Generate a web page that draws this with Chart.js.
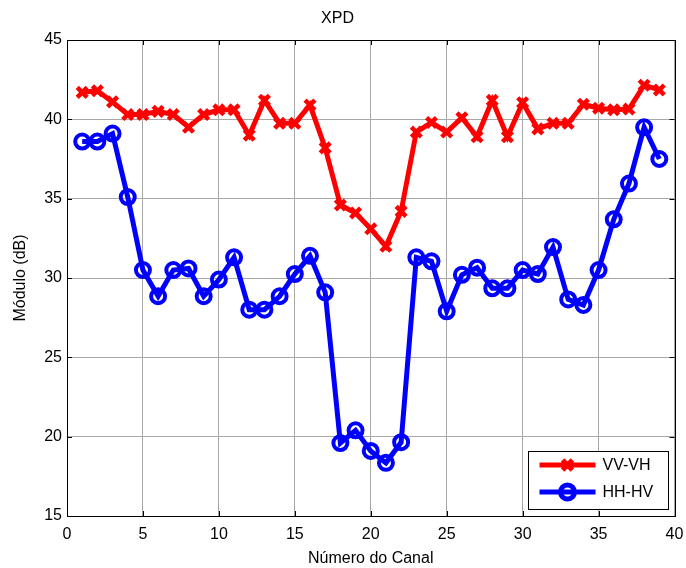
<!DOCTYPE html>
<html>
<head>
<meta charset="utf-8">
<script src="https://cdn.jsdelivr.net/npm/chart.js@4.4.1/dist/chart.umd.min.js"></script>
<style>
  html, body { margin: 0; padding: 0; background: #fff; }
  #wrap { width: 686px; height: 568px; }
</style>
</head>
<body>
<div id="wrap"><canvas id="c" width="686" height="568"></canvas></div>
<script>
const channels = [1, 2, 3, 4, 5, 6, 7, 8, 9, 10, 11, 12, 13, 14, 15, 16, 17, 18, 19, 20,
  21, 22, 23, 24, 25, 26, 27, 28, 29, 30, 31, 32, 33, 34, 35, 36, 37, 38, 39];

const vvVh = [41.7, 41.8, 41.1, 40.3, 40.3, 40.5, 40.3, 39.5, 40.3, 40.6,
  40.6, 39.0, 41.2, 39.75, 39.75, 40.9, 38.2, 34.6, 34.1, 33.1,
  32.0, 34.2, 39.2, 39.8, 39.2, 40.1, 38.9, 41.2, 38.9, 41.05,
  39.4, 39.75, 39.75, 40.95, 40.7, 40.6, 40.65, 42.15, 41.85];

const hhHv = [38.6, 38.6, 39.1, 35.1, 30.5, 28.85, 30.5, 30.6, 28.85, 29.9,
  31.3, 28.0, 28.0, 28.85, 30.25, 31.4, 29.1, 19.6, 20.4, 19.1,
  18.35, 19.65, 31.3, 31.05, 27.9, 30.2, 30.65, 29.35, 29.35, 30.5,
  30.25, 31.95, 28.65, 28.3, 30.5, 33.7, 35.95, 39.5, 37.5];

const seriesNames = ['VV-VH', 'HH-HV'];
const xTitle = 'Número do Canal';
const yTitle = 'Módulo (dB)';
const chartTitle = 'XPD';

const FONT = "'Liberation Sans', Arial, Helvetica, sans-serif";

// frame + inward ticks, matlab style
const frame = {
  id: 'frame',
  afterDatasetsDraw(chart) {
    const { ctx, chartArea: a, scales } = chart;
    ctx.save();
    ctx.strokeStyle = '#000';
    ctx.lineWidth = 1;
    ctx.beginPath();
    const len = 5;
    scales.x.ticks.forEach(t => {
      const px = Math.round(scales.x.getPixelForValue(t.value)) + 0.5;
      ctx.moveTo(px, a.bottom); ctx.lineTo(px, a.bottom - len);
      ctx.moveTo(px, a.top); ctx.lineTo(px, a.top + len);
    });
    scales.y.ticks.forEach(t => {
      const py = Math.round(scales.y.getPixelForValue(t.value)) + 0.5;
      ctx.moveTo(a.left, py); ctx.lineTo(a.left + len, py);
      ctx.moveTo(a.right, py); ctx.lineTo(a.right - len, py);
    });
    ctx.stroke();
    ctx.strokeRect(Math.round(a.left) + 0.5, Math.round(a.top) + 0.5,
      Math.round(a.right - a.left), Math.round(a.bottom - a.top));
    ctx.restore();
  }
};

// legend box in the lower right corner of the axes
const boxLegend = {
  id: 'boxLegend',
  afterDraw(chart) {
    const { ctx, chartArea: a } = chart;
    const w = 140, h = 58;
    const x0 = a.right - 7 - w, y0 = a.bottom - 7 - h;
    ctx.save();
    ctx.fillStyle = '#fff';
    ctx.fillRect(x0, y0, w, h);
    ctx.strokeStyle = '#000';
    ctx.lineWidth = 1;
    ctx.strokeRect(Math.round(x0) + 0.5, Math.round(y0) + 0.5, w, h);
    chart.data.datasets.forEach((ds, i) => {
      const y = y0 + 14 + i * 27;
      ctx.strokeStyle = ds.borderColor;
      ctx.lineWidth = ds.borderWidth;
      ctx.beginPath();
      ctx.moveTo(x0 + 12, y);
      ctx.lineTo(x0 + 68, y);
      ctx.stroke();
      ctx.fillStyle = 'rgba(0,0,0,0)';
      Chart.helpers.drawPoint(ctx, {
        pointStyle: ds.pointStyle,
        radius: ds.pointRadius,
        borderWidth: ds.pointBorderWidth
      }, x0 + 40, y);
      ctx.fillStyle = '#000';
      ctx.font = '16px ' + FONT;
      ctx.textBaseline = 'middle';
      ctx.textAlign = 'left';
      ctx.fillText(ds.label, x0 + 75, y + 1);
    });
    ctx.restore();
  }
};

new Chart(document.getElementById('c'), {
  type: 'line',
  data: {
    datasets: [
      {
        label: seriesNames[0],
        data: channels.map((c, i) => ({ x: c, y: vvVh[i] })),
        borderColor: '#ff0000',
        backgroundColor: '#ff0000',
        borderWidth: 5,
        pointStyle: 'crossRot',
        pointRadius: 7,
        pointBorderWidth: 4.5,
        pointBorderColor: '#ff0000',
        tension: 0
      },
      {
        label: seriesNames[1],
        data: channels.map((c, i) => ({ x: c, y: hhHv[i] })),
        borderColor: '#0000ff',
        backgroundColor: 'rgba(0,0,0,0)',
        borderWidth: 5,
        pointStyle: 'circle',
        pointRadius: 7,
        pointBorderWidth: 4,
        pointBorderColor: '#0000ff',
        pointBackgroundColor: 'rgba(0,0,0,0)',
        tension: 0
      }
    ]
  },
  options: {
    responsive: false,
    animation: false,
    events: [],
    layout: { padding: { left: 0, right: 11, top: 0, bottom: 0 } },
    scales: {
      x: {
        type: 'linear',
        min: 0,
        max: 40,
        afterFit: s => { s.height = 52; s.paddingLeft = 0; s.paddingRight = 0; },
        ticks: { stepSize: 5, color: '#000', padding: 9, font: { family: FONT, size: 16 } },
        grid: { color: '#a8a8a8', drawTicks: false },
        border: { display: false },
        title: { display: true, text: xTitle, color: '#000', padding: { top: 0, bottom: 0 },
          font: { family: FONT, size: 16 } }
      },
      y: {
        type: 'linear',
        min: 15,
        max: 45,
        afterFit: s => { s.width = 67; s.paddingTop = 0; s.paddingBottom = 0; },
        ticks: { stepSize: 5, color: '#000', padding: 5, font: { family: FONT, size: 16 } },
        grid: { color: '#a8a8a8', drawTicks: false },
        border: { display: false },
        title: { display: true, text: yTitle, color: '#000', padding: { top: 11, bottom: 0 },
          font: { family: FONT, size: 16 } }
      }
    },
    plugins: {
      legend: { display: false },
      tooltip: { enabled: false },
      title: {
        display: true,
        text: chartTitle,
        color: '#000',
        padding: { top: 9, bottom: 11.8 },
        font: { family: FONT, size: 16, weight: 'normal' }
      }
    }
  },
  plugins: [frame, boxLegend]
});
</script>
</body>
</html>
